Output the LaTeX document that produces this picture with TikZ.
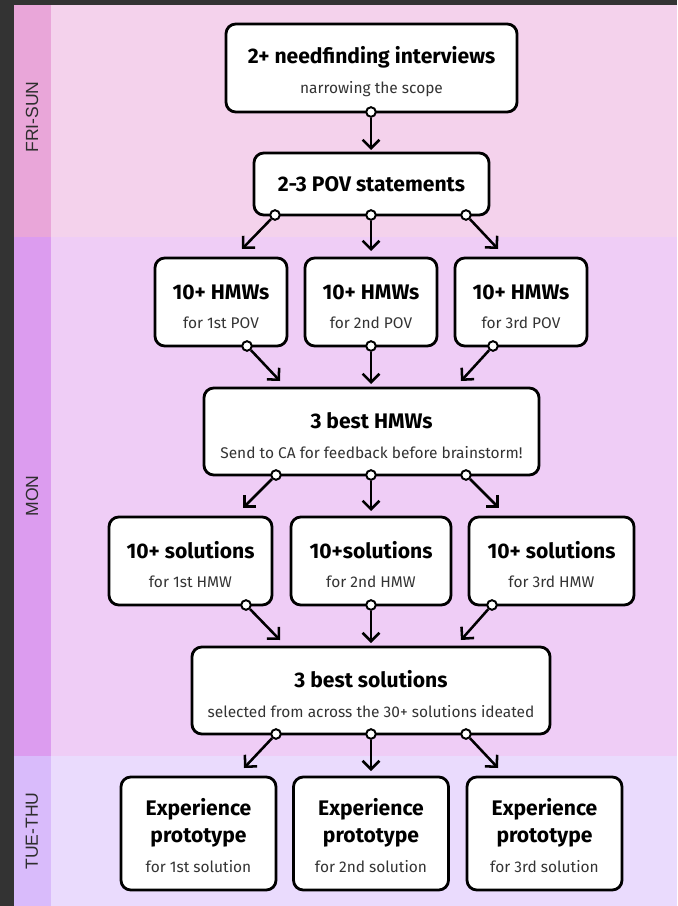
\documentclass[tikz,border=0pt]{standalone}
\usepackage{fontspec}
\setmainfont{Fira Sans}
\newfontfamily\dayfont{Liberation Sans}
\usetikzlibrary{arrows.meta}

\definecolor{frame}{HTML}{333333}
\definecolor{friside}{HTML}{E9A6D9}
\definecolor{fribg}{HTML}{F4D2EC}
\definecolor{monside}{HTML}{DC9CEF}
\definecolor{monbg}{HTML}{EFCDF6}
\definecolor{tueside}{HTML}{D9BBFB}
\definecolor{tuebg}{HTML}{EADBFD}
\definecolor{notegray}{HTML}{333333}
\definecolor{daygray}{HTML}{2E2E2E}

\newcommand{\stagetitle}[1]{{\fontsize{15}{17}\selectfont\bfseries #1}}
\newcommand{\stagenote}[1]{{\fontsize{11}{13}\selectfont\color{notegray}#1}}
\newcommand{\stagetop}{\rule{0pt}{17pt}}

\begin{document}
\begin{tikzpicture}[x=0.025cm, y=-0.025cm]
 % --- styles ---
 \tikzset{
    stage/.style={
        rectangle,
        draw,
        line width=2pt,
        fill=white,
        rounded corners=7pt,
        align=center,
        inner sep=0pt,
        font=\fontsize{11}{21}\selectfont
    },
    port/.style={
        circle,
        draw,
        line width=1.4pt,
        fill=white,
        inner sep=0pt,
        minimum size=0.24cm
    },
    flow/.style={
        line width=1.8pt,
        -{Straight Barb[angle=90:8.5pt]}
    },
    day/.style={
        rotate=90,
        text=daygray,
        font=\dayfont\fontsize{12.5}{14}\selectfont
    }
 }
 \useasboundingbox (0,0) rectangle (677,906);

 % --- background bands ---
 \fill[frame] (0,0) rectangle (677,906);
 \fill[friside] (14,5) rectangle (51,237);
 \fill[fribg] (51,5) rectangle (677,237);
 \fill[monside] (14,237) rectangle (51,756);
 \fill[monbg] (51,237) rectangle (677,756);
 \fill[tueside] (14,756) rectangle (51,906);
 \fill[tuebg] (51,756) rectangle (677,906);

 \node[day] (fri) at (32,117) {FRI-SUN};
 \node[day] (mon) at (32,496) {MON};
 \node[day] (tue) at (32,831) {TUE-THU};

 % --- FRI-SUN ---
 \node[stage, minimum width=7.275cm, minimum height=2.2cm] (ints) at (371.5,68)
    {\stagetop\stagetitle{2+ needfinding interviews}\\\stagenote{narrowing the scope}};
 \node[stage, minimum width=5.875cm, minimum height=1.55cm] (pov) at (371.5,184)
    {\stagetitle{2-3 POV statements}};

 % --- MON ---
 \foreach \n/\x/\ord in {1/221/1st, 2/371/2nd, 3/521/3rd}
    \node[stage, minimum width=3.3cm, minimum height=2.2cm] (hmw\n) at (\x,302)
       {\stagetop\stagetitle{10+ HMWs}\\\stagenote{for \ord\ POV}};

 \node[stage, minimum width=8.375cm, minimum height=2.175cm] (besthmw) at (371.5,431.5)
    {\stagetop\stagetitle{3 best HMWs}\\\stagenote{Send to CA for feedback before brainstorm!}};

 \node[stage, minimum width=4.075cm, minimum height=2.2cm] (sol1) at (190.5,561)
    {\stagetop\stagetitle{10+ solutions}\\\stagenote{for 1st HMW}};
 \node[stage, minimum width=4cm, minimum height=2.2cm] (sol2) at (371,561)
    {\stagetop\stagetitle{10+solutions}\\\stagenote{for 2nd HMW}};
 \node[stage, minimum width=4.125cm, minimum height=2.2cm] (sol3) at (551.5,561)
    {\stagetop\stagetitle{10+ solutions}\\\stagenote{for 3rd HMW}};

 \node[stage, minimum width=8.95cm, minimum height=2.175cm] (bestsol) at (371,690.5)
    {\stagetop\stagetitle{3 best solutions}\\\stagenote{selected from across the 30+ solutions ideated}};

 % --- TUE-THU ---
 \foreach \n/\x/\ord in {1/198.5/1st, 2/371/2nd, 3/544.5/3rd}
    \node[stage, minimum width=3.875cm, minimum height=2.825cm] (proto\n) at (\x,833.5)
       {\rule{0pt}{15pt}\stagetitle{Experience}\\[-2pt]\stagetitle{prototype}\\\stagenote{for \ord\ solution}};

 % --- connectors ---
 \node[port] (ints-o) at (371,112) {};
 \coordinate (pov-in) at (371,150);
 \draw[flow] (ints-o) -- (pov-in);

 \foreach \n/\px/\ex/\ey in {1/275/242/249, 2/371/371/251, 3/466/498/249} {
    \node[port] (pov-o\n) at (\px,215) {};
    \coordinate (hmw\n-in) at (\ex,\ey);
    \draw[flow] (pov-o\n) -- (hmw\n-in);
 }
 \foreach \n/\px/\ex/\ey in {1/247/280/381, 2/371/371/384, 3/493/461/381} {
    \node[port] (hmw\n-o) at (\px,346) {};
    \coordinate (besthmw-in\n) at (\ex,\ey);
    \draw[flow] (hmw\n-o) -- (besthmw-in\n);
 }
 \foreach \n/\px/\ex/\ey in {1/276/243/508, 2/371/371/511, 3/466/499/508} {
    \node[port] (besthmw-o\n) at (\px,475) {};
    \coordinate (sol\n-in) at (\ex,\ey);
    \draw[flow] (besthmw-o\n) -- (sol\n-in);
 }
 \foreach \n/\px/\ex/\ey in {1/246/280/640, 2/371/371/643, 3/492/461/640} {
    \node[port] (sol\n-o) at (\px,605) {};
    \coordinate (bestsol-in\n) at (\ex,\ey);
    \draw[flow] (sol\n-o) -- (bestsol-in\n);
 }
 \foreach \n/\px/\ex/\ey in {1/276/244/768, 2/371/371/771, 3/466/498/768} {
    \node[port] (bestsol-o\n) at (\px,734) {};
    \coordinate (proto\n-in) at (\ex,\ey);
    \draw[flow] (bestsol-o\n) -- (proto\n-in);
 }
\end{tikzpicture}
\end{document}
